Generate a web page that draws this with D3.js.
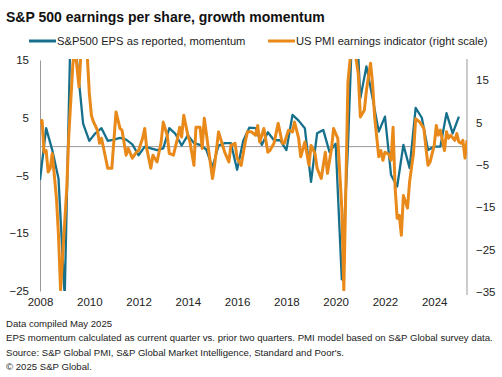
<!DOCTYPE html>
<html>
<head>
<meta charset="utf-8">
<script src="https://cdn.jsdelivr.net/npm/d3@7"></script>
<style>
  body { margin: 0; background: #fff; }
  svg { font-family: "Liberation Sans", Arial, sans-serif; }
</style>
</head>
<body>
<svg id="chart" width="502" height="377"></svg>
<script>
// S&P500 EPS momentum, quarterly (left scale)
const epsDates = ['2008-01','2008-04','2008-07','2008-10','2009-01','2009-04','2009-07','2009-10',
  '2010-01','2010-04','2010-07','2010-10','2011-01','2011-04','2011-07','2011-10',
  '2012-01','2012-04','2012-07','2012-10','2013-01','2013-04','2013-07','2013-10',
  '2014-01','2014-04','2014-07','2014-10','2015-01','2015-04','2015-07','2015-10',
  '2016-01','2016-04','2016-07','2016-10','2017-01','2017-04','2017-07','2017-10',
  '2018-01','2018-04','2018-07','2018-10','2019-01','2019-04','2019-07','2019-10',
  '2020-01','2020-04','2020-07','2020-10','2021-01','2021-04','2021-07','2021-10',
  '2022-01','2022-04','2022-07','2022-10','2023-01','2023-04','2023-07','2023-10',
  '2024-01','2024-04','2024-07','2024-10','2025-01'];
const epsValues = [-5.8, 3.2, -0.6, -5.5, -26, 22, 15, 4.0,
  1.0, 2.3, 3.2, 1.0, 1.2, 1.5, 1.2, 0.4,
  -1.5, 0.0, -0.3, -0.6, -0.3, 3.2, 2.2, 0.2,
  2.0, 0.6, 0.3, -0.5, -3.6, 0.2, 0.6, 0.6,
  -4.0, 1.0, 3.3, 3.2, 0.3, 2.5, 1.1, 1.1,
  -0.6, 5.5, 4.5, 3.2, -6.1, 2.3, 2.9, -0.9,
  0.5, -23, 0, 30, 8.4, 13.9, 8.4, 2.6,
  5.2, -4.9, -6.9, 0.3, -3.7, 6.7, 5.0, -0.6,
  0, 0, 5.8, 2.3, 5.2];

// US PMI earnings indicator, monthly (right scale)
const pmiDates = ['2008-01','2008-02','2008-03','2008-04','2008-05','2008-06','2008-07','2008-09','2008-10','2008-11',
  '2009-02','2009-03','2009-05','2009-06','2009-08','2009-09','2009-11','2009-12',
  '2010-01','2010-02','2010-03','2010-05','2010-06','2010-07','2010-10','2010-12',
  '2011-02','2011-04','2011-05','2011-07','2011-08','2011-10','2011-12',
  '2012-01','2012-03','2012-04','2012-05','2012-07','2012-08','2012-10','2012-12',
  '2013-01','2013-03','2013-04','2013-06','2013-08','2013-09','2013-10','2013-11',
  '2014-01','2014-02','2014-04','2014-05','2014-07','2014-08','2014-09','2014-11',
  '2015-01','2015-02','2015-04','2015-06','2015-07','2015-09','2015-10','2015-12',
  '2016-01','2016-03','2016-05','2016-06','2016-08','2016-10','2016-11','2016-12',
  '2017-02','2017-04','2017-05','2017-07','2017-09','2017-11','2017-12',
  '2018-02','2018-04','2018-05','2018-07','2018-08','2018-10','2018-12',
  '2019-01','2019-03','2019-04','2019-06','2019-08','2019-09','2019-11','2019-12',
  '2020-02','2020-04','2020-05','2020-07','2020-08','2020-09','2020-10','2020-12',
  '2021-01','2021-03','2021-04','2021-06','2021-07','2021-08','2021-10','2021-11','2021-12',
  '2022-01','2022-03','2022-04','2022-05','2022-06','2022-07','2022-08','2022-09','2022-10','2022-11','2022-12',
  '2023-01','2023-03','2023-04','2023-06','2023-08','2023-09','2023-10','2023-11',
  '2024-01','2024-02','2024-03','2024-04','2024-06','2024-07','2024-08','2024-09','2024-11','2024-12',
  '2025-01','2025-02','2025-03','2025-04','2025-05'];
const pmiValues = [4.7, 5.5, -2.0, -1.6, -6.7, -5.8, -2.3, -12.9, -21.6, -34.5,
  -10.5, 1.3, 18.5, 23, 13.4, 22, 24, 21,
  12, 6.7, 5.3, 3.2, 0.1, 1.3, -5.8, -5.8,
  7.5, 3.6, 3.2, -2.7, -1.1, -3.4, -2.0,
  -1.6, 1.3, 3.6, -1.1, -5.8, -2.7, -4.3, 0.4,
  5.1, 2.0, -2.3, -2.7, 1.3, 3.9, 1.6, 6.7,
  2.0, 0.4, -5.1, 3.9, 3.9, -1.1, 6.0, -1.1,
  -8.2, -5.1, 2.8, -0.4, -2.0, -4.3, -0.4, 0.1,
  -3.4, -5.1, 0.4, 2.8, 2.8, 2.0, 4.3, 0.4,
  3.6, -2.0, -1.6, 0.1, 4.8, 0.1, 0.1,
  3.2, 2.8, 5.1, 1.3, -3.1, 0.4, -5.1,
  -0.4, -2.3, -5.8, -8.2, -2.0, -7.0, -1.1, 3.6,
  1.3, -15.2, -34.6, 14.6, 19.7, 24, 23, 16.6,
  6.3, 7.9, 12.6, 19, 14.2, 6.3, -3.1, -1.6, -3.9,
  -2.0, -2.5, -3.9, 3.9, -10.5, -17.6, -16.9, -21.6, -12.2, -13.7, -15.2,
  -9.0, -2.0, 5.9, 5.1, 3.6, -1.1, -5.1, -4.3,
  -0.4, 4.3, 2.0, 3.2, -1.6, 2.8, 1.3, 2.0, 0.8, 2.4,
  0.4, 0.1, 0.8, -3.4, 0.8];

const leftTicks = [15, 5, -5, -15, -25];
const rightTicks = [15, 5, -5, -15, -25, -35];
const yearTicks = [2008, 2010, 2012, 2014, 2016, 2018, 2020, 2022, 2024];

const tealColor = '#16708c';
const orangeColor = '#e8891a';

const parseMonth = d3.timeParse('%Y-%m');
const eps = epsDates.map((d, i) => ({date: parseMonth(d), value: epsValues[i]}));
const pmi = pmiDates.map((d, i) => ({date: parseMonth(d), value: pmiValues[i]}));

const plot = {left: 40, right: 467, top: 59, bottom: 291};

const svg = d3.select('#chart');

const x = d3.scaleTime()
    .domain([parseMonth('2008-01'), parseMonth('2025-05')])
    .range([plot.left, plot.right]);
const yLeft = d3.scaleLinear().domain([-25, 15]).range([plot.bottom, plot.top + 1]);
const yRight = d3.scaleLinear().domain([-35, 20]).range([plot.bottom + 1, plot.top]);

// title
svg.append('text')
    .attr('x', 6).attr('y', 22)
    .attr('font-size', 14).attr('font-weight', 'bold').attr('fill', '#111')
    .text('S&P 500 earnings per share, growth momentum');

// legend
const legend = [
  {label: 'S&P500 EPS as reported, momentum', color: tealColor, x: 29},
  {label: 'US PMI earnings indicator (right scale)', color: orangeColor, x: 268}
];
const lg = svg.append('g').selectAll('g').data(legend).enter().append('g');
lg.append('line')
    .attr('x1', d => d.x).attr('x2', d => d.x + 27)
    .attr('y1', 41).attr('y2', 41)
    .attr('stroke', d => d.color).attr('stroke-width', 3);
lg.append('text')
    .attr('x', d => d.x + 28).attr('y', 45)
    .attr('font-size', 11.2).attr('fill', '#222')
    .text(d => d.label);

// zero line
svg.append('line')
    .attr('x1', plot.left).attr('x2', plot.right)
    .attr('y1', yLeft(0)).attr('y2', yLeft(0))
    .attr('stroke', '#999').attr('stroke-width', 1);

// axes
const axisLeft = svg.append('g')
    .attr('transform', `translate(${plot.left},0)`)
    .call(d3.axisLeft(yLeft).tickValues(leftTicks).tickSize(0).tickPadding(11));
const axisRight = svg.append('g')
    .attr('transform', `translate(${plot.right},0)`)
    .call(d3.axisRight(yRight).tickValues(rightTicks).tickSize(0).tickPadding(9));
const axisBottom = svg.append('g')
    .attr('transform', `translate(0,${plot.bottom})`)
    .call(d3.axisBottom(x).tickValues(yearTicks.map(y => new Date(y, 0, 1)))
      .tickFormat(d3.timeFormat('%Y')).tickSize(0).tickPadding(7));
axisBottom.select('.domain').remove();
[axisLeft, axisRight, axisBottom].forEach(a => {
  a.selectAll('.domain').attr('stroke', '#999');
  a.selectAll('text').attr('font-size', 11.5).attr('fill', '#222')
    .attr('font-family', '"Liberation Sans", Arial, sans-serif');
});
axisRight.select('.domain').attr('d', `M0,${plot.top}V${plot.bottom + 4}`);

// clip to plot
svg.append('clipPath').attr('id', 'clip')
  .append('rect')
    .attr('x', plot.left).attr('y', plot.top)
    .attr('width', plot.right - plot.left).attr('height', plot.bottom - plot.top);

const lines = svg.append('g').attr('clip-path', 'url(#clip)');

lines.append('path')
    .datum(eps)
    .attr('fill', 'none')
    .attr('stroke', tealColor)
    .attr('stroke-width', 2.3)
    .attr('stroke-linejoin', 'round')
    .attr('d', d3.line().x(d => x(d.date)).y(d => yLeft(d.value)));

lines.append('path')
    .datum(pmi)
    .attr('fill', 'none')
    .attr('stroke', orangeColor)
    .attr('stroke-width', 3)
    .attr('stroke-linejoin', 'round')
    .attr('d', d3.line().x(d => x(d.date)).y(d => yRight(d.value)));

// footnotes
const notes = [
  'Data compiled May 2025',
  'EPS momentum calculated as current quarter vs. prior two quarters. PMI model based on S&P Global survey data.',
  'Source: S&P Global PMI, S&P Global Market Intelligence, Standard and Poor\'s.',
  '\u00A9 2025 S&P Global.'
];
svg.append('g').selectAll('text').data(notes).enter().append('text')
    .attr('x', 6)
    .attr('y', (d, i) => 327 + i * 14.3)
    .attr('font-size', 9.6).attr('fill', '#222')
    .text(d => d);
</script>
</body>
</html>
